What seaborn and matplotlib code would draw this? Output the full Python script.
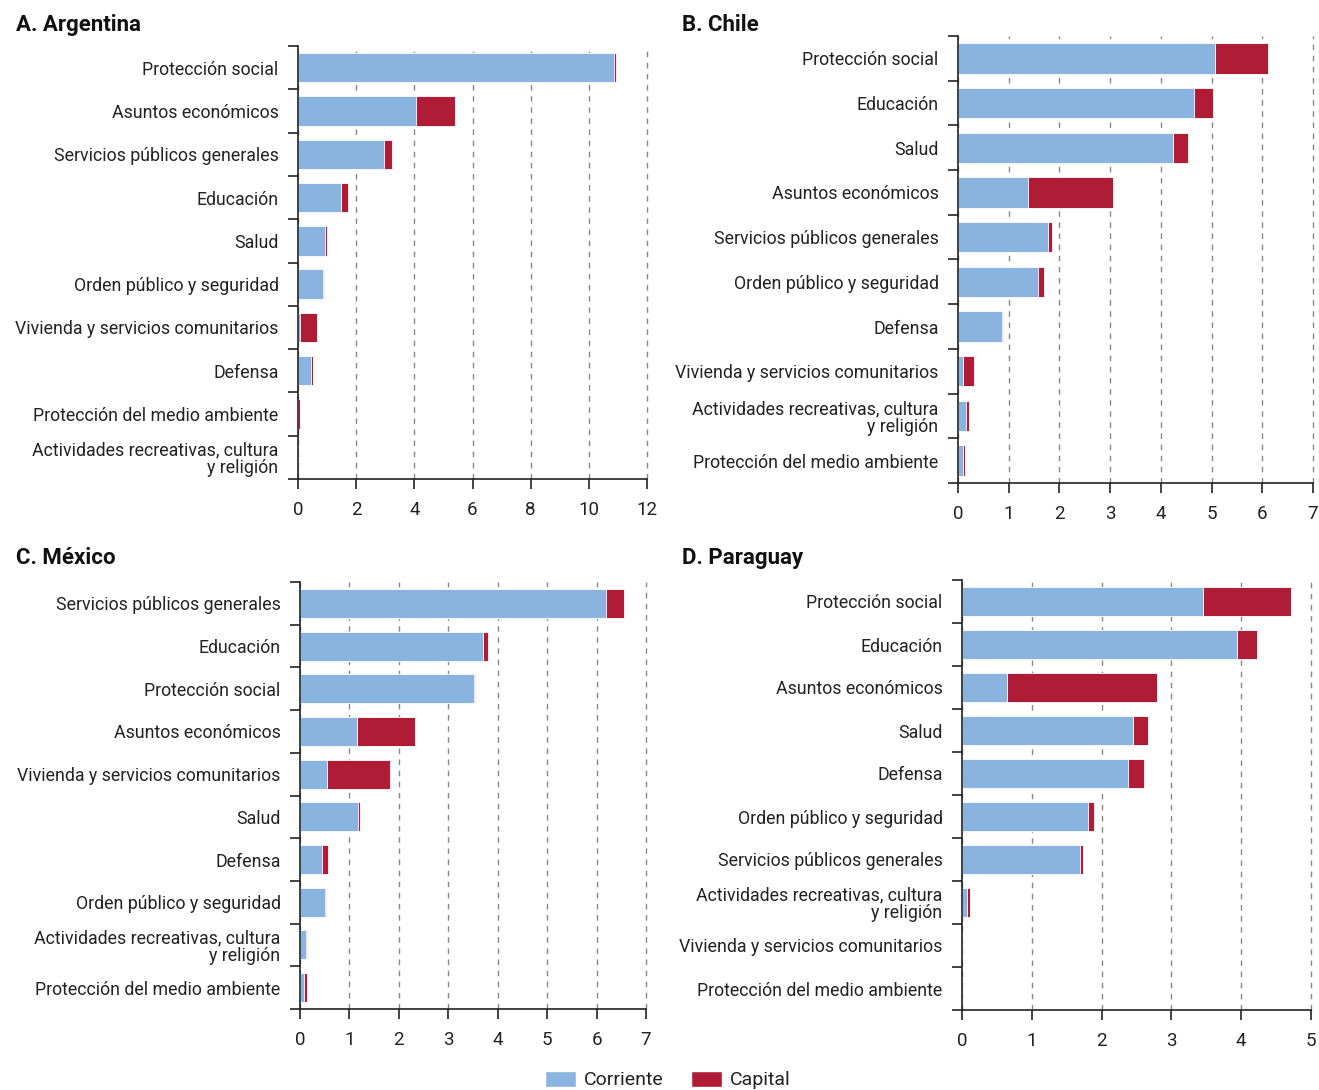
import numpy as np
import pandas as pd
import matplotlib
matplotlib.use("Agg")
from matplotlib import pyplot as plt
from matplotlib.patches import Patch
import seaborn as sns

# Panel A. Argentina
arg_cat = ["Protección social", "Asuntos económicos", "Servicios públicos generales",
           "Educación", "Salud", "Orden público y seguridad",
           "Vivienda y servicios comunitarios", "Defensa",
           "Protección del medio ambiente", "Actividades recreativas, cultura\ny religión"]
arg_corr = [10.88, 4.06, 2.96, 1.47, 0.93, 0.85, 0.07, 0.45, 0.01, 0.0]
arg_cap = [0.06, 1.34, 0.28, 0.24, 0.06, 0.05, 0.57, 0.06, 0.06, 0.0]

# Panel B. Chile
chl_cat = ["Protección social", "Educación", "Salud", "Asuntos económicos",
           "Servicios públicos generales", "Orden público y seguridad", "Defensa",
           "Vivienda y servicios comunitarios",
           "Actividades recreativas, cultura\ny religión", "Protección del medio ambiente"]
chl_corr = [5.07, 4.66, 4.24, 1.38, 1.77, 1.57, 0.87, 0.10, 0.15, 0.10]
chl_cap = [1.05, 0.36, 0.29, 1.68, 0.08, 0.13, 0.02, 0.21, 0.06, 0.03]

# Panel C. México
mex_cat = ["Servicios públicos generales", "Educación", "Protección social",
           "Asuntos económicos", "Vivienda y servicios comunitarios", "Salud", "Defensa",
           "Orden público y seguridad", "Actividades recreativas, cultura\ny religión",
           "Protección del medio ambiente"]
mex_corr = [6.20, 3.70, 3.53, 1.16, 0.54, 1.18, 0.44, 0.50, 0.13, 0.09]
mex_cap = [0.35, 0.10, 0.02, 1.17, 1.28, 0.04, 0.12, 0.02, 0.01, 0.06]

# Panel D. Paraguay
pry_cat = ["Protección social", "Educación", "Asuntos económicos", "Salud", "Defensa",
           "Orden público y seguridad", "Servicios públicos generales",
           "Actividades recreativas, cultura\ny religión",
           "Vivienda y servicios comunitarios", "Protección del medio ambiente"]
pry_corr = [3.45, 3.94, 0.64, 2.45, 2.38, 1.81, 1.69, 0.07, 0.0, 0.0]
pry_cap = [1.27, 0.29, 2.15, 0.22, 0.23, 0.08, 0.04, 0.04, 0.0, 0.0]

BLUE = "#8AB4E0"
RED = "#B01C35"
W, H = 1319, 1090

sns.set_style("white")
plt.rcParams["font.family"] = ["Roboto", "DejaVu Sans"]

fig = plt.figure(figsize=(W / 100, H / 100), dpi=100)


def panel(rect, cats, corr, cap, xmax, step, title, title_xy):
    ax = fig.add_axes([rect[0] / W, 1 - rect[3] / H,
                       (rect[2] - rect[0]) / W, (rect[3] - rect[1]) / H])
    df = pd.DataFrame({"cat": cats, "corr": corr,
                       "total": np.array(corr) + np.array(cap)})
    sns.barplot(data=df, y="cat", x="total", color=RED, saturation=1,
                width=0.68, edgecolor="white", linewidth=0.6, ax=ax, orient="h")
    sns.barplot(data=df, y="cat", x="corr", color=BLUE, saturation=1,
                width=0.68, edgecolor="white", linewidth=0.6, ax=ax, orient="h")
    n = len(cats)
    ax.set_ylim(n - 0.5, -0.5)
    ax.set_xlim(0, xmax)
    ax.set_xlabel("")
    ax.set_ylabel("")
    ax.set_yticks(np.arange(n + 1) - 0.5)
    ax.set_yticklabels([])
    ax.set_yticks(np.arange(n), minor=True)
    ax.set_yticklabels(cats, minor=True, ha="right", linespacing=1.0)
    ax.tick_params(axis="y", which="minor", length=0, pad=14, labelsize=12.8,
                   colors="#222222")
    ax.tick_params(axis="y", which="major", length=7, width=1.2, direction="out",
                   left=True, color="#222222")
    ax.set_xticks(np.arange(0, xmax + step, step))
    ax.tick_params(axis="x", length=7, width=1.2, direction="out", bottom=True,
                   pad=9, labelsize=13.5, color="#222222", labelcolor="#222222")
    ax.xaxis.grid(True, linestyle=(0, (4, 4)), color="#888888", linewidth=1)
    for gl in ax.get_xgridlines():
        gl.set_clip_on(False)
    ax.yaxis.grid(False)
    ax.set_axisbelow(True)
    for s in ["top", "right"]:
        ax.spines[s].set_visible(False)
    for s in ["left", "bottom"]:
        ax.spines[s].set_color("#222222")
        ax.spines[s].set_linewidth(1.2)
    fig.text(title_xy[0] / W, 1 - title_xy[1] / H, title, fontsize=16,
             fontweight="bold", ha="left", va="center", color="#111111")
    return ax


panel((298, 46, 647, 479), arg_cat, arg_corr, arg_cap, 12, 2, "A. Argentina", (16, 25))
panel((958, 36, 1313, 483), chl_cat, chl_corr, chl_cap, 7, 1, "B. Chile", (682, 25))
panel((300, 582, 646, 1009), mex_cat, mex_corr, mex_cap, 7, 1, "C. México", (16, 558))
panel((962, 580, 1311, 1010), pry_cat, pry_corr, pry_cap, 5, 1, "D. Paraguay", (682, 558))

handles = [Patch(facecolor=BLUE, label="Corriente"), Patch(facecolor=RED, label="Capital")]
fig.legend(handles=handles, loc="center", bbox_to_anchor=(668 / W, 1 - 1080 / H),
           ncol=2, frameon=False, fontsize=14, handlelength=1.6, handleheight=0.9,
           columnspacing=1.4, handletextpad=0.4, labelcolor="#222222")

fig.savefig("out.png", dpi=100)
